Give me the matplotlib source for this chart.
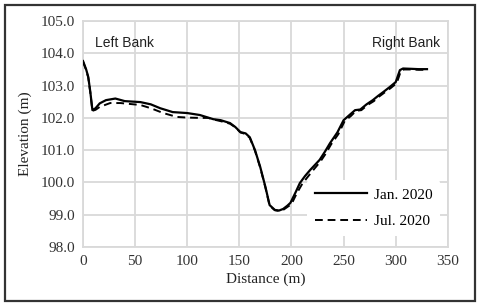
import matplotlib
matplotlib.use('Agg')
import matplotlib.pyplot as plt
from matplotlib.patches import Rectangle

# survey data
jan_dist = [0, 3, 5, 7, 9, 12, 16, 22, 31, 40, 55, 65, 74, 86, 100, 112, 125, 132,
            141, 146, 151, 156, 160, 165, 170, 175, 179, 184, 188, 192, 196, 199,
            204, 208, 213, 218, 227, 232, 237, 244, 250, 256, 261, 266, 272, 278,
            283, 288, 294, 300, 304, 307, 315, 322, 330]
jan_elev = [103.76, 103.5, 103.27, 102.8, 102.24, 102.3, 102.45, 102.55, 102.6, 102.52,
            102.49, 102.42, 102.3, 102.18, 102.15, 102.09, 101.96, 101.93, 101.84,
            101.72, 101.56, 101.52, 101.4, 101.0, 100.48, 99.86, 99.3, 99.15, 99.13,
            99.18, 99.28, 99.37, 99.7, 99.98, 100.2, 100.39, 100.7, 100.95, 101.22,
            101.55, 101.93, 102.1, 102.24, 102.26, 102.42, 102.55, 102.68, 102.8,
            102.95, 103.11, 103.48, 103.53, 103.52, 103.51, 103.51]

jul_dist = [0, 3, 5, 7, 9, 12, 16, 26, 36, 55, 65, 77, 90, 100, 112, 120, 128, 132,
            141, 146, 151, 156, 160, 165, 170, 175, 179, 184, 188, 192, 196, 200,
            205, 210, 215, 220, 228, 233, 238, 245, 251, 257, 262, 267, 273, 279,
            284, 289, 295, 301, 305, 308, 315, 322, 330]
jul_elev = [103.74, 103.48, 103.25, 102.78, 102.22, 102.25, 102.34, 102.46, 102.46,
            102.4, 102.3, 102.15, 102.03, 102.01, 102.0, 102.0, 101.93, 101.9, 101.82,
            101.71, 101.55, 101.5, 101.38, 100.98, 100.46, 99.84, 99.28, 99.14, 99.12,
            99.15, 99.24, 99.33, 99.66, 99.94, 100.15, 100.35, 100.66, 100.9, 101.18,
            101.5, 101.9, 102.06, 102.22, 102.24, 102.4, 102.52, 102.66, 102.78,
            102.92, 103.08, 103.46, 103.5, 103.5, 103.49, 103.49]

x_ticks = [0, 50, 100, 150, 200, 250, 300, 350]
y_ticks = [98.0, 99.0, 100.0, 101.0, 102.0, 103.0, 104.0, 105.0]

serif = ['Liberation Serif', 'DejaVu Serif']
sans = ['Liberation Sans', 'DejaVu Sans']

fig = plt.figure(figsize=(4.8, 3.05), dpi=100)
ax = fig.add_axes([0.173, 0.19, 0.76, 0.741])

ax.plot(jan_dist, jan_elev, color='black', lw=1.6, label='Jan. 2020', zorder=3)
ax.plot(jul_dist, jul_elev, color='black', lw=1.4, ls=(0, (4, 2.5)), label='Jul. 2020', zorder=3)

ax.set_xlim(0, 350)
ax.set_ylim(98, 105)
ax.set_xticks(x_ticks)
ax.set_yticks(y_ticks)
ax.set_yticklabels(['%.1f' % v for v in y_ticks], family=serif, fontsize=11)
ax.set_xticklabels([str(v) for v in x_ticks], family=serif, fontsize=11)
ax.tick_params(length=0, pad=6, colors='#333333')
ax.grid(True, color='#d9d9d9', lw=1.3)
ax.set_axisbelow(True)
for s in ax.spines.values():
    s.set_color('#d9d9d9')
    s.set_linewidth(1.3)

ax.set_xlabel('Distance (m)', family=serif, fontsize=11, color='#222222', labelpad=3)
ax.set_ylabel('Elevation (m)', family=serif, fontsize=11, color='#222222', labelpad=6)

ax.text(11, 104.33, 'Left Bank', family=sans, fontsize=10, va='center', ha='left', color='#222222')
ax.text(343, 104.33, 'Right Bank', family=sans, fontsize=10, va='center', ha='right', color='#222222')

leg = ax.legend(loc='lower right', bbox_to_anchor=(1.0, 0.015), frameon=True,
                prop={'family': serif, 'size': 11}, handlelength=3.4,
                borderpad=0.5, labelspacing=0.85, handletextpad=0.45)
leg.get_frame().set_edgecolor('none')
leg.get_frame().set_facecolor('white')
leg.get_frame().set_alpha(1)

fig.patches.append(Rectangle((0.011, 0.013), 0.978, 0.972, transform=fig.transFigure,
                             fill=False, edgecolor='#333333', lw=1.6))

fig.savefig('out.png', dpi=100)
